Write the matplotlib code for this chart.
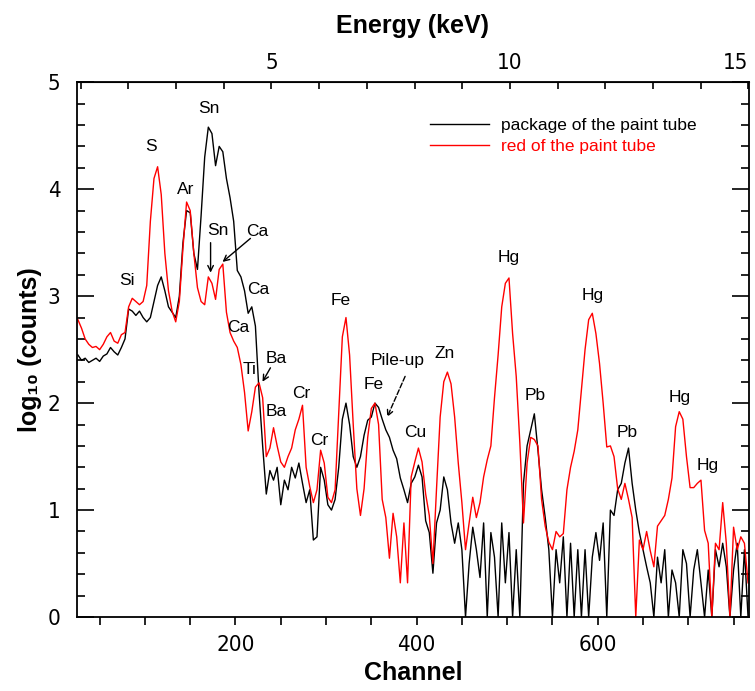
import numpy as np
import matplotlib.pyplot as plt
from matplotlib.ticker import MultipleLocator, FixedLocator

# spectra, log10(counts), one value every 4 channels
channel = np.arange(26, 767, 4)

package_tube = [
    2.45, 2.40, 2.42, 2.38, 2.40, 2.42, 2.39, 2.44, 2.46, 2.52,
    2.48, 2.45, 2.52, 2.60, 2.88, 2.86, 2.82, 2.86, 2.80, 2.76,
    2.80, 2.95, 3.10, 3.18, 3.05, 2.90, 2.85, 2.80, 3.00, 3.50,
    3.80, 3.78, 3.40, 3.25, 3.75, 4.30, 4.58, 4.52, 4.22, 4.40,
    4.35, 4.10, 3.92, 3.70, 3.24, 3.18, 3.05, 2.84, 2.90, 2.72,
    2.10, 1.60, 1.15, 1.37, 1.28, 1.40, 1.05, 1.28, 1.19, 1.40,
    1.30, 1.44, 1.25, 1.07, 1.19, 0.72, 0.75, 1.40, 1.28, 1.05,
    1.00, 1.10, 1.40, 1.85, 2.00, 1.80, 1.50, 1.40, 1.50, 1.70,
    1.84, 1.87, 2.00, 1.96, 1.85, 1.75, 1.68, 1.56, 1.48, 1.30,
    1.19, 1.07, 1.25, 1.31, 1.42, 1.31, 0.90, 0.79, 0.41, 0.88,
    1.00, 1.31, 1.19, 0.88, 0.69, 0.88, 0.63, 0.00, 0.50, 0.84,
    0.63, 0.37, 0.88, 0.00, 0.79, 0.56, 0.00, 0.88, 0.32, 0.79,
    0.00, 0.63, 0.00, 1.25, 1.60, 1.75, 1.90, 1.56, 1.19, 0.93,
    0.63, 0.00, 0.63, 0.32, 0.75, 0.00, 0.69, 0.00, 0.63, 0.00,
    0.63, 0.00, 0.56, 0.79, 0.53, 0.88, 0.00, 1.00, 0.95, 1.19,
    1.25, 1.44, 1.58, 1.25, 1.00, 0.79, 0.63, 0.47, 0.32, 0.00,
    0.56, 0.32, 0.63, 0.00, 0.44, 0.32, 0.00, 0.63, 0.50, 0.00,
    0.44, 0.63, 0.32, 0.00, 0.44, 0.00, 0.63, 0.47, 0.69, 0.47,
    0.00, 0.44, 0.69, 0.00, 0.63, 0.00,
]

red_tube = [
    2.78, 2.70, 2.60, 2.55, 2.52, 2.53, 2.50, 2.55, 2.62, 2.66,
    2.58, 2.56, 2.64, 2.66, 2.90, 2.98, 2.95, 2.92, 2.95, 3.10,
    3.70, 4.10, 4.21, 3.95, 3.40, 3.05, 2.86, 2.76, 2.95, 3.45,
    3.88, 3.80, 3.40, 3.08, 2.95, 2.92, 3.18, 3.12, 2.97, 3.25,
    3.30, 2.85, 2.66, 2.58, 2.52, 2.36, 2.10, 1.74, 1.92, 2.15,
    2.19, 2.05, 1.50, 1.58, 1.77, 1.60, 1.45, 1.40, 1.50, 1.58,
    1.75, 1.85, 1.98, 1.40, 1.22, 1.07, 1.19, 1.56, 1.44, 1.12,
    1.07, 1.19, 1.90, 2.62, 2.80, 2.45, 1.80, 1.20, 0.95, 1.20,
    1.68, 1.95, 2.00, 1.80, 1.10, 0.93, 0.55, 0.97, 0.75, 0.32,
    0.88, 0.32, 1.31, 1.45, 1.58, 1.45, 1.15, 0.95, 0.50, 1.20,
    1.87, 2.20, 2.29, 2.18, 1.87, 1.44, 1.07, 0.63, 0.88, 1.12,
    0.93, 1.07, 1.31, 1.47, 1.60, 2.05, 2.45, 2.90, 3.12, 3.17,
    2.65, 2.25, 1.63, 0.88, 1.44, 1.68, 1.66, 1.60, 1.10, 0.85,
    0.70, 0.63, 0.80, 0.75, 0.78, 1.19, 1.40, 1.55, 1.75, 2.12,
    2.50, 2.78, 2.84, 2.65, 2.37, 2.00, 1.59, 1.60, 1.50, 1.20,
    1.10, 1.25, 1.10, 0.93, 0.00, 0.72, 0.63, 0.80, 0.62, 0.47,
    0.85, 0.90, 0.95, 1.10, 1.30, 1.78, 1.92, 1.85, 1.50, 1.21,
    1.21, 1.25, 1.28, 0.81, 0.69, 0.00, 0.69, 0.63, 1.07, 0.69,
    0.00, 0.84, 0.63, 0.75, 0.69, 0.32,
]

# element labels (channel, log10 counts)
peak_names = ['S', 'Sn', 'Ar', 'Si', 'Sn', 'Ca', 'Ca', 'Ca', 'Ti', 'Ba', 'Ba',
              'Cr', 'Cr', 'Fe', 'Fe', 'Pile-up', 'Cu', 'Zn', 'Hg', 'Pb', 'Hg',
              'Pb', 'Hg', 'Hg']
peak_ch = [107, 171, 145, 80, 181, 224, 225, 203, 215, 245, 245,
           273, 293, 316, 353, 379, 399, 431, 502, 531, 594,
           632, 691, 721]
peak_val = [4.40, 4.75, 4.00, 3.15, 3.61, 3.60, 3.06, 2.71, 2.31, 2.42, 1.92,
            2.09, 1.65, 2.96, 2.17, 2.40, 1.73, 2.46, 3.36, 2.07, 3.01,
            1.73, 2.05, 1.42]

# arrows: (start channel, start value, end channel, end value, dashed)
arrows = [
    (172.5, 3.50, 172.5, 3.22, False),
    (216.5, 3.54, 185.7, 3.32, False),
    (238.6, 2.33, 229.8, 2.20, False),
    (387.3, 2.25, 367.5, 1.87, True),
]

# energy calibration of the top axis
gain = 52.66
offset = -23.6


def ch2kev(c):
    return (np.asarray(c) - offset) / gain


def kev2ch(e):
    return np.asarray(e) * gain + offset


sans = ['Liberation Sans', 'DejaVu Sans']
narrow = dict(family='DejaVu Sans', stretch='condensed', size=16)

fig = plt.figure(figsize=(7.55, 6.91), dpi=100)
ax = fig.add_axes([0.102, 0.107, 0.890, 0.774])

ax.plot(channel, package_tube, color='black', lw=1.0,
        label='package of the paint tube')
ax.plot(channel, red_tube, color='#ff0000', lw=1.0,
        label='red of the paint tube')

ax.set_xlim(25, 767)
ax.set_ylim(0, 5)

for name, c, v in zip(peak_names, peak_ch, peak_val):
    ax.text(c, v, name, ha='center', va='center', fontsize=12.5, family=sans)

for x0, y0, x1, y1, dashed in arrows:
    ax.annotate('', xy=(x1, y1), xytext=(x0, y0),
                arrowprops=dict(arrowstyle='->', color='black', lw=1.0,
                                linestyle='--' if dashed else '-',
                                shrinkA=0, shrinkB=0))

leg = ax.legend(loc='upper left', bbox_to_anchor=(0.525, 0.933), frameon=False,
                handlelength=3.4, handletextpad=0.7, labelspacing=0.35,
                borderpad=0, borderaxespad=0, labelcolor='linecolor',
                prop={'family': sans, 'size': 12.5})

for s in ax.spines.values():
    s.set_linewidth(1.3)

ax.xaxis.set_major_locator(FixedLocator([200, 400, 600]))
ax.xaxis.set_minor_locator(MultipleLocator(50))
ax.yaxis.set_major_locator(MultipleLocator(1))
ax.yaxis.set_minor_locator(MultipleLocator(0.2))
ax.tick_params(axis='x', which='both', direction='out', top=False,
               length=6, width=1.2, pad=7)
ax.tick_params(axis='y', which='both', direction='in', left=True, right=True,
               width=1.2, pad=12)
ax.tick_params(axis='y', which='major', length=12)
ax.tick_params(axis='y', which='minor', length=6)
for lab in ax.get_xticklabels() + ax.get_yticklabels():
    lab.set(**narrow)

top = ax.secondary_xaxis('top', functions=(ch2kev, kev2ch))
top.xaxis.set_major_locator(FixedLocator([5, 10, 15]))
top.xaxis.set_minor_locator(FixedLocator(list(range(1, 16))))
top.tick_params(axis='x', which='both', direction='in', length=5, width=1.2,
                pad=7)
top_labels = top.get_xticklabels()
for lab in top_labels:
    lab.set(**narrow)
top_labels[-1].set_horizontalalignment('right')
top.set_xlabel('Energy (keV)', fontsize=18, fontweight='bold', family=sans,
               labelpad=14)

ax.set_xlabel('Channel', fontsize=18, fontweight='bold', family=sans, labelpad=4)
ax.set_ylabel('log₁₀ (counts)', fontsize=18, fontweight='bold', family=sans,
              labelpad=4)

fig.savefig('out.png', dpi=100)
